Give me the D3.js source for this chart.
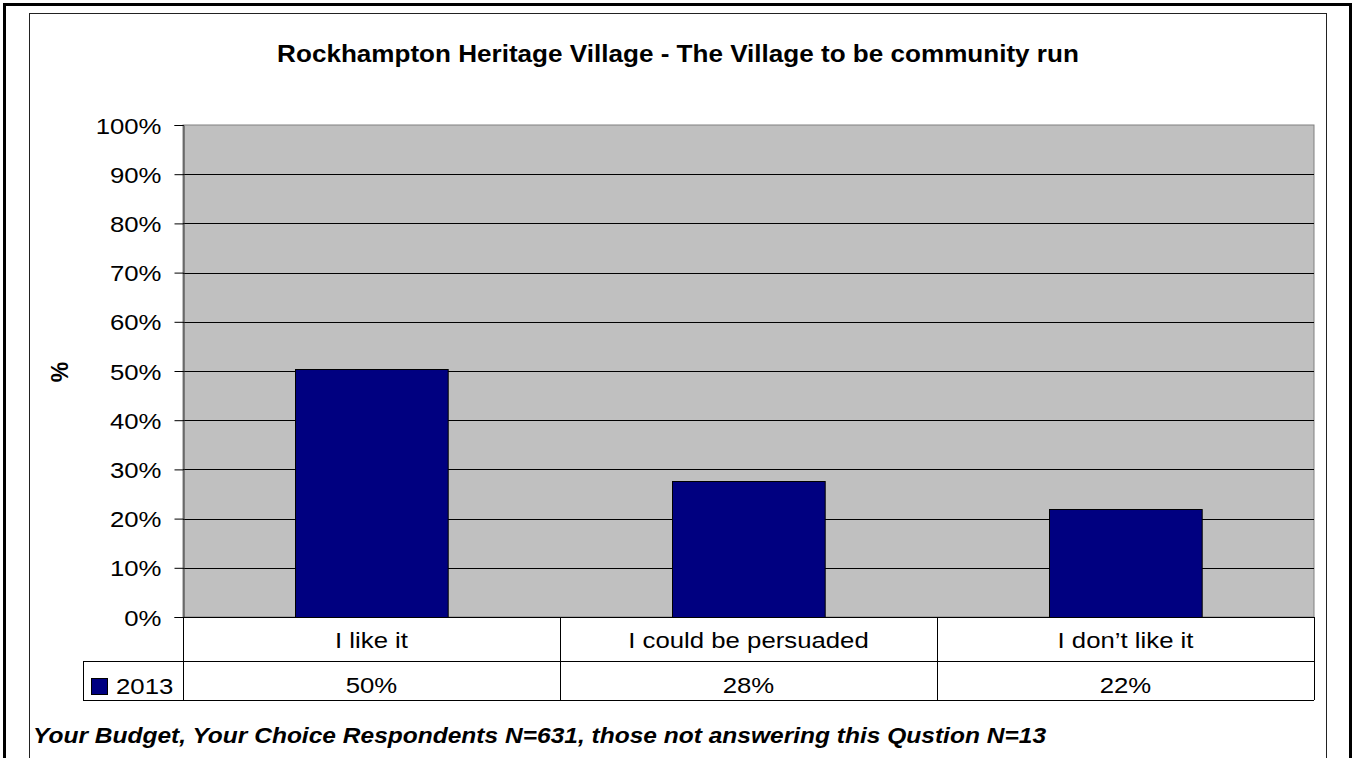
<!DOCTYPE html>
<html>
<head>
<meta charset="utf-8">
<script src="https://cdn.jsdelivr.net/npm/d3@7"></script>
<style>
  body { margin: 0; background: #fff; }
  svg { display: block; font-family: "Liberation Sans", Arial, sans-serif; }
</style>
</head>
<body>
<div id="chart"></div>
<script>
const categories = ["I like it", "I could be persuaded", "I don\u2019t like it"]
const seriesName = "2013"
const values = [0.504, 0.277, 0.219]
const yTicks = [0, 0.1, 0.2, 0.3, 0.4, 0.5, 0.6, 0.7, 0.8, 0.9, 1.0]
const title = "Rockhampton Heritage Village - The Village to be community run"
const yTitle = "%"
const footnote = "Your Budget, Your Choice Respondents N=631, those not answering this Qustion N=13"

const W = 1355, H = 758
const plot = {left: 183, right: 1314, top: 125, bottom: 617}
const rowBottom1 = 661, rowBottom2 = 700, legendLeft = 83
const stretch = 1.12
const navy = "#000080"

const svg = d3.select("#chart").append("svg")
    .attr("width", W)
    .attr("height", H)

// chart frames
svg.append("rect")
    .attr("x", 4.5).attr("y", 4.5)
    .attr("width", 1346).attr("height", 760)
    .attr("fill", "none").attr("stroke", "#000").attr("stroke-width", 3)
svg.append("rect")
    .attr("x", 29.5).attr("y", 13.5)
    .attr("width", 1297).attr("height", 760)
    .attr("fill", "none").attr("stroke", "#222").attr("stroke-width", 1)

function stretchedText(sel, x, y, txt, anchor) {
    return sel.append("text")
        .attr("transform", `translate(${x},${y}) scale(${stretch},1)`)
        .attr("text-anchor", anchor || "middle")
        .text(txt)
}

const y = d3.scaleLinear().domain([0, 1]).range([plot.bottom, plot.top])
const cols = d3.scaleBand().domain(categories).range([plot.left, plot.right])
const x = d3.scaleBand().domain(categories).range([plot.left, plot.right])
    .paddingInner(0.595).paddingOuter(0.2975)

// plot area
svg.append("rect")
    .attr("x", plot.left).attr("y", plot.top)
    .attr("width", plot.right - plot.left).attr("height", plot.bottom - plot.top)
    .attr("fill", "#c0c0c0").attr("stroke", "#808080")

svg.append("g")
    .selectAll("line")
    .data(yTicks.slice(1, -1))
    .join("line")
    .attr("x1", plot.left).attr("x2", plot.right)
    .attr("y1", d => Math.round(y(d)) + 0.5).attr("y2", d => Math.round(y(d)) + 0.5)
    .attr("stroke", "#000")

// bars
svg.append("g")
    .selectAll("rect")
    .data(values)
    .join("rect")
    .attr("x", (d, i) => Math.round(x(categories[i])) + 0.5)
    .attr("y", d => Math.round(y(d)) + 0.5)
    .attr("width", x.bandwidth())
    .attr("height", d => plot.bottom - Math.round(y(d)))
    .attr("fill", navy)
    .attr("stroke", "#000")

// y axis
const yAxisG = svg.append("g")
    .attr("transform", `translate(${plot.left + 0.5},0)`)
    .call(d3.axisLeft(y).tickValues(yTicks).tickFormat(d3.format(".0%")).tickSize(9).tickPadding(0))
yAxisG.select(".domain").attr("stroke", "#333")
yAxisG.selectAll(".tick line").attr("stroke", "#000")
yAxisG.selectAll(".tick text")
    .attr("x", null).attr("dy", null)
    .attr("transform", `translate(-22,8) scale(${stretch},1)`)
    .attr("font-size", 23)
    .attr("font-family", "Liberation Sans, Arial, sans-serif")
    .attr("fill", "#000")

svg.append("text")
    .attr("transform", "translate(68,372) rotate(-90)")
    .attr("text-anchor", "middle")
    .attr("font-size", 23).attr("font-weight", "bold")
    .text(yTitle)

// data table
const table = svg.append("g").attr("stroke", "#000").attr("fill", "none")
table.append("line").attr("x1", plot.left).attr("x2", plot.right)
    .attr("y1", plot.bottom + 0.5).attr("y2", plot.bottom + 0.5)
table.append("line").attr("x1", legendLeft).attr("x2", plot.right)
    .attr("y1", rowBottom1 + 0.5).attr("y2", rowBottom1 + 0.5)
table.append("line").attr("x1", legendLeft).attr("x2", plot.right)
    .attr("y1", rowBottom2 + 0.5).attr("y2", rowBottom2 + 0.5)
table.append("line").attr("x1", legendLeft + 0.5).attr("x2", legendLeft + 0.5)
    .attr("y1", rowBottom1).attr("y2", rowBottom2)
table.selectAll("line.col")
    .data(categories.concat([null]))
    .join("line")
    .attr("class", "col")
    .attr("x1", (d, i) => Math.round(plot.left + cols.step() * i) + 0.5)
    .attr("x2", (d, i) => Math.round(plot.left + cols.step() * i) + 0.5)
    .attr("y1", plot.bottom).attr("y2", rowBottom2)

const tableText = svg.append("g").attr("font-size", 23).attr("fill", "#000")
categories.forEach((c, i) => {
    stretchedText(tableText, cols(c) + cols.bandwidth() / 2, 648, c)
    stretchedText(tableText, cols(c) + cols.bandwidth() / 2, 693, d3.format(".0%")(values[i]))
})
svg.append("rect")
    .attr("x", 91.5).attr("y", 678.5).attr("width", 16).attr("height", 16)
    .attr("fill", navy).attr("stroke", "#000")
stretchedText(tableText, 116, 694, seriesName, "start")

// title and footnote
stretchedText(svg.append("g").attr("font-size", 23.3).attr("font-weight", "bold"), 678, 62, title)
stretchedText(svg.append("g").attr("font-size", 21.9).attr("font-weight", "bold").attr("font-style", "italic"),
    33, 743, footnote, "start")
</script>
</body>
</html>
